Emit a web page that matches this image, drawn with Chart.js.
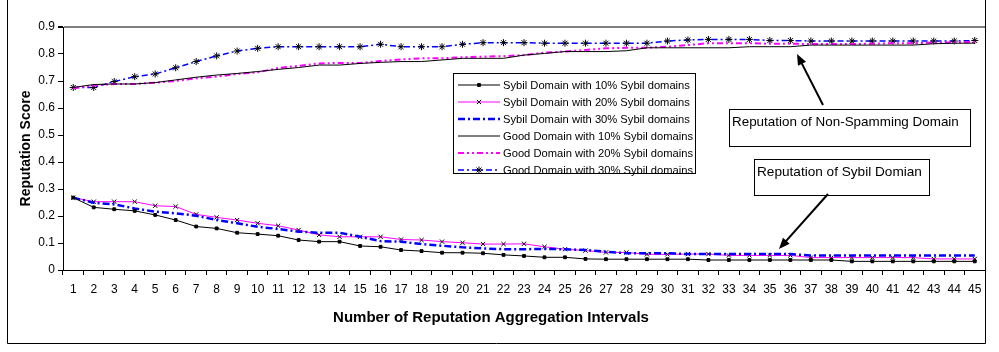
<!DOCTYPE html>
<html>
<head>
<meta charset="utf-8">
<script src="https://cdn.jsdelivr.net/npm/chart.js@4"></script>
<style>
    body { margin: 0; background: #fff; }
    canvas { display: block; }
</style>
</head>
<body>
<canvas id="myChart" width="999" height="352"></canvas>
<script>
const intervals = Array.from({ length: 45 }, (_, i) => String(i + 1));

const sybil10 = [0.268, 0.232, 0.225, 0.219, 0.204, 0.185, 0.161, 0.154, 0.138, 0.133,
    0.127, 0.111, 0.105, 0.105, 0.089, 0.086, 0.074, 0.070, 0.064, 0.064,
    0.062, 0.056, 0.052, 0.047, 0.047, 0.041, 0.040, 0.040, 0.040, 0.040,
    0.040, 0.037, 0.037, 0.037, 0.037, 0.037, 0.037, 0.037, 0.032, 0.032,
    0.032, 0.032, 0.032, 0.032, 0.032];
const sybil20 = [0.268, 0.253, 0.253, 0.253, 0.238, 0.235, 0.206, 0.195, 0.185, 0.173,
    0.164, 0.148, 0.130, 0.123, 0.123, 0.123, 0.113, 0.111, 0.105, 0.101,
    0.096, 0.096, 0.097, 0.086, 0.077, 0.072, 0.065, 0.065, 0.058, 0.058,
    0.059, 0.059, 0.054, 0.054, 0.054, 0.054, 0.046, 0.046, 0.046, 0.046,
    0.046, 0.046, 0.041, 0.041, 0.041];
const sybil30 = [0.268, 0.249, 0.243, 0.228, 0.216, 0.210, 0.201, 0.185, 0.173, 0.160,
    0.152, 0.142, 0.138, 0.138, 0.123, 0.107, 0.105, 0.096, 0.090, 0.084,
    0.080, 0.077, 0.077, 0.078, 0.077, 0.074, 0.068, 0.062, 0.062, 0.062,
    0.059, 0.059, 0.059, 0.059, 0.059, 0.059, 0.054, 0.054, 0.054, 0.054,
    0.054, 0.054, 0.054, 0.054, 0.054];
const good10 = [0.676, 0.687, 0.689, 0.689, 0.694, 0.704, 0.714, 0.722, 0.728, 0.735,
    0.743, 0.750, 0.759, 0.759, 0.765, 0.769, 0.772, 0.772, 0.778, 0.784,
    0.784, 0.784, 0.796, 0.802, 0.809, 0.809, 0.809, 0.812, 0.823, 0.823,
    0.823, 0.823, 0.823, 0.827, 0.827, 0.827, 0.833, 0.833, 0.833, 0.833,
    0.833, 0.833, 0.838, 0.840, 0.840];
const good20 = [0.673, 0.683, 0.689, 0.689, 0.694, 0.700, 0.710, 0.716, 0.726, 0.732,
    0.748, 0.756, 0.765, 0.767, 0.767, 0.774, 0.780, 0.784, 0.784, 0.788,
    0.790, 0.792, 0.796, 0.805, 0.809, 0.815, 0.821, 0.823, 0.823, 0.827,
    0.833, 0.840, 0.840, 0.840, 0.838, 0.838, 0.837, 0.837, 0.837, 0.838,
    0.840, 0.840, 0.842, 0.843, 0.845];
const good30 = [0.676, 0.676, 0.698, 0.716, 0.726, 0.749, 0.772, 0.793, 0.811, 0.821,
    0.827, 0.827, 0.827, 0.827, 0.827, 0.836, 0.827, 0.827, 0.827, 0.836,
    0.842, 0.842, 0.842, 0.840, 0.840, 0.840, 0.840, 0.840, 0.840, 0.848,
    0.852, 0.854, 0.854, 0.854, 0.850, 0.850, 0.848, 0.848, 0.848, 0.848,
    0.848, 0.848, 0.848, 0.848, 0.850];

const seriesNames = [
    "Sybil Domain with 10% Sybil domains",
    "Sybil Domain with 20% Sybil domains",
    "Sybil Domain with 30% Sybil domains",
    "Good Domain with 10% Sybil domains",
    "Good Domain with 20% Sybil domains",
    "Good Domain with 30% Sybil domains"
];

const yTicks = [0, 0.1, 0.2, 0.3, 0.4, 0.5, 0.6, 0.7, 0.8, 0.9];

const FONT = "'Liberation Sans', Arial, sans-serif";

function line(label, data, color, width, dash, style, radius) {
    return {
        label: label,
        data: data,
        borderColor: color,
        backgroundColor: "#000",
        borderWidth: width,
        borderDash: dash,
        pointStyle: style || "circle",
        pointRadius: style ? radius : 0,
        pointBorderColor: "#000",
        pointBackgroundColor: "#000",
        pointBorderWidth: 1,
        tension: 0,
        fill: false
    };
}

const datasets = [
    line(seriesNames[3], good10, "#000000", 1, [], null, 0),
    line(seriesNames[4], good20, "#ff00ff", 2, [6, 3, 2, 3, 2, 3], null, 0),
    line(seriesNames[5], good30, "#0000ff", 1.5, [6, 3, 2, 3], "star", 3.5),
    line(seriesNames[0], sybil10, "#000000", 1, [], "rect", 2),
    line(seriesNames[2], sybil30, "#0000ff", 2.5, [7, 3, 2, 3], null, 0),
    line(seriesNames[1], sybil20, "#ff00ff", 1, [], "crossRot", 3)
];

// chart frame, x title, legend box and the two callouts
const extras = {
    id: "extras",
    afterDraw(chart) {
        const ctx = chart.ctx;
        ctx.save();

        ctx.strokeStyle = "#000";
        ctx.lineWidth = 1;
        ctx.beginPath();
        ctx.moveTo(7.5, 0);
        ctx.lineTo(7.5, 343.5);
        ctx.lineTo(985.5, 343.5);
        ctx.lineTo(985.5, 0);
        ctx.stroke();

        ctx.fillStyle = "#000";
        ctx.font = "bold 15px " + FONT;
        ctx.textAlign = "center";
        ctx.textBaseline = "middle";
        ctx.fillText("Number of Reputation Aggregation Intervals", 491, 318);

        // legend
        ctx.fillStyle = "#fff";
        ctx.fillRect(453, 73, 242, 100);
        ctx.strokeRect(453.5, 73.5, 242, 100);
        const order = [3, 5, 4, 0, 1, 2];
        const rowsY = [85, 102, 119, 136, 153, 170];
        ctx.font = "12px " + FONT;
        let w = ctx.measureText(seriesNames[0]).width;
        let size = 12 * 187 / w;
        order.forEach((di, i) => {
            const ds = chart.data.datasets[di];
            const y = rowsY[i];
            ctx.strokeStyle = ds.borderColor;
            ctx.lineWidth = ds.borderWidth;
            ctx.setLineDash(ds.borderDash);
            ctx.beginPath();
            ctx.moveTo(458, y);
            ctx.lineTo(500, y);
            ctx.stroke();
            ctx.setLineDash([]);
            if (ds.pointRadius > 0) {
                ctx.strokeStyle = "#000";
                ctx.fillStyle = "#000";
                ctx.lineWidth = 1;
                Chart.helpers.drawPoint(ctx, { pointStyle: ds.pointStyle, radius: ds.pointRadius, rotation: 0, borderWidth: 1 }, 479, y);
            }
            ctx.fillStyle = "#000";
            ctx.font = size.toFixed(2) + "px " + FONT;
            ctx.textBaseline = "middle";
            ctx.textAlign = "left";
            ctx.fillText(ds.label, 503, y + 1);
        });

        // callouts
        ctx.lineWidth = 1;
        ctx.strokeStyle = "#000";
        ctx.fillStyle = "#fff";
        ctx.fillRect(729, 109, 241, 37);
        ctx.strokeRect(729.5, 109.5, 241, 37);
        ctx.fillRect(754, 159, 175, 36);
        ctx.strokeRect(754.5, 159.5, 175, 36);

        ctx.fillStyle = "#000";
        ctx.textBaseline = "middle";
        ctx.textAlign = "left";
        ctx.font = "15px " + FONT;
        let t1 = "Reputation of Non-Spamming Domain";
        let s1 = 15 * 227 / ctx.measureText(t1).width;
        ctx.font = s1.toFixed(2) + "px " + FONT;
        ctx.fillText(t1, 732, 122);
        ctx.font = "15px " + FONT;
        let t2 = "Reputation of Sybil Domian";
        let s2 = 15 * 165 / ctx.measureText(t2).width;
        ctx.font = s2.toFixed(2) + "px " + FONT;
        ctx.fillText(t2, 757, 172);

        arrow(ctx, 823, 105, 797, 54);
        arrow(ctx, 828, 194, 779, 249);

        ctx.restore();
    }
};

function arrow(ctx, x1, y1, x2, y2) {
    const a = Math.atan2(y2 - y1, x2 - x1);
    const len = 11, half = 4.5;
    ctx.strokeStyle = "#000";
    ctx.fillStyle = "#000";
    ctx.lineWidth = 2;
    ctx.beginPath();
    ctx.moveTo(x1, y1);
    ctx.lineTo(x2 - Math.cos(a) * len * 0.8, y2 - Math.sin(a) * len * 0.8);
    ctx.stroke();
    ctx.beginPath();
    ctx.moveTo(x2, y2);
    ctx.lineTo(x2 - Math.cos(a) * len + Math.sin(a) * half, y2 - Math.sin(a) * len - Math.cos(a) * half);
    ctx.lineTo(x2 - Math.cos(a) * len - Math.sin(a) * half, y2 - Math.sin(a) * len + Math.cos(a) * half);
    ctx.closePath();
    ctx.fill();
}

const ctx = document.getElementById("myChart").getContext("2d");

new Chart(ctx, {
    type: "line",
    data: {
        labels: intervals,
        datasets: datasets
    },
    options: {
        responsive: false,
        animation: false,
        layout: { padding: { left: 0, top: 27, right: 14, bottom: 0 } },
        plugins: {
            legend: { display: false },
            tooltip: { enabled: false }
        },
        scales: {
            x: {
                offset: true,
                grid: {
                    offset: true,
                    drawOnChartArea: false,
                    drawTicks: true,
                    tickLength: 5,
                    color: "#000",
                    tickColor: "#000"
                },
                border: { display: true, color: "#000", width: 1 },
                ticks: {
                    autoSkip: false,
                    maxRotation: 0,
                    minRotation: 0,
                    padding: 7,
                    color: "#000",
                    font: { family: FONT, size: 12 }
                },
                afterFit: function (scale) { scale.height = 82; }
            },
            y: {
                min: 0,
                max: 0.9,
                afterBuildTicks: function (scale) {
                    scale.ticks = yTicks.map(v => ({ value: v }));
                },
                grid: {
                    drawTicks: true,
                    tickLength: 5,
                    tickColor: "#000",
                    color: function (c) {
                        return c.tick && Math.abs(c.tick.value - 0.9) < 1e-6 ? "#808080" : "rgba(0,0,0,0)";
                    },
                    lineWidth: function (c) {
                        return c.tick && Math.abs(c.tick.value - 0.9) < 1e-6 ? 2 : 1;
                    }
                },
                border: { display: true, color: "#000", width: 1 },
                ticks: {
                    padding: 3,
                    color: "#000",
                    font: { family: FONT, size: 12 },
                    callback: function (v) { return String(+Number(v).toFixed(1)); }
                },
                title: {
                    display: true,
                    text: "Reputation Score",
                    color: "#000",
                    padding: { top: 18, bottom: 0 },
                    font: { family: FONT, size: 14, weight: "bold" }
                },
                afterFit: function (scale) { scale.width = 63; }
            }
        }
    },
    plugins: [extras]
});
</script>
</body>
</html>
